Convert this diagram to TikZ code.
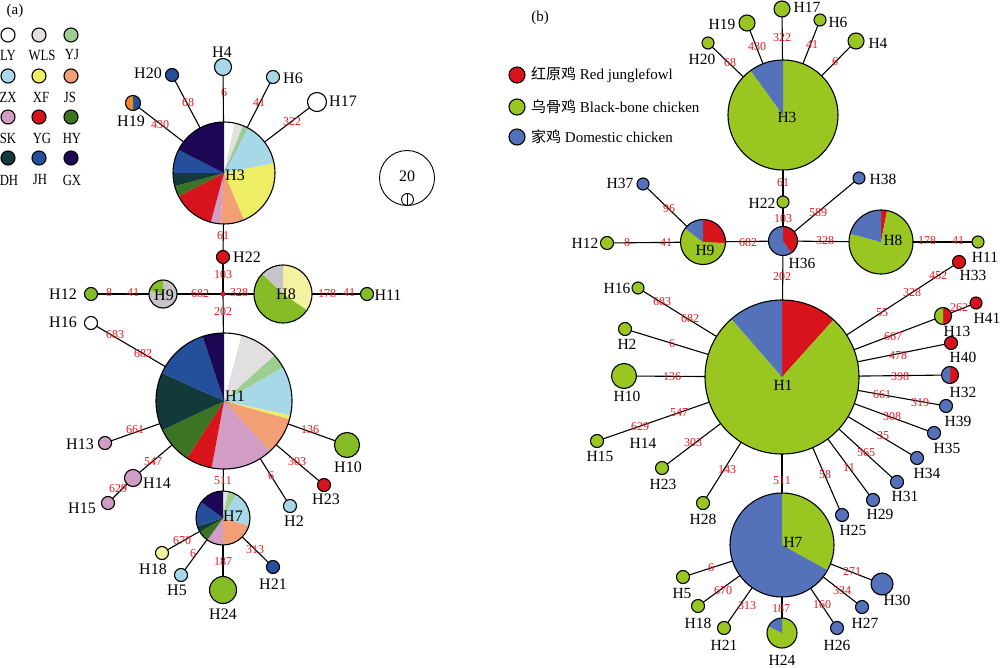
\documentclass[tikz,border=0pt]{standalone}
\usepackage{fontspec}
\setmainfont{Liberation Serif}
\newfontfamily\cjk{Noto Sans CJK SC}
\usetikzlibrary{calc}
\pgfdeclarelayer{back}
\pgfdeclarelayer{edges}
\pgfsetlayers{back,edges,main}
% panel (a) colours
\definecolor{cLY}{HTML}{FFFFFF}
\definecolor{cWLS}{HTML}{E1DFE0}
\definecolor{cYJ}{HTML}{9CCE8F}
\definecolor{cZX}{HTML}{A7D8E8}
\definecolor{cXF}{HTML}{EDEE63}
\definecolor{cJS}{HTML}{F29F75}
\definecolor{cSK}{HTML}{D19DC5}
\definecolor{cYG}{HTML}{D7131B}
\definecolor{cHY}{HTML}{3B7523}
\definecolor{cDH}{HTML}{14393B}
\definecolor{cJH}{HTML}{234F9B}
\definecolor{cGX}{HTML}{1B0753}
\definecolor{cGrey}{HTML}{C6C4C7}
\definecolor{cPale}{HTML}{F2F2A0}
\definecolor{cGa}{HTML}{86BC25}
\definecolor{cOr}{HTML}{EE8A2C}
% panel (b) colours
\definecolor{bRed}{HTML}{D7131B}
\definecolor{bGreen}{HTML}{9AC622}
\definecolor{bBlue}{HTML}{5372BA}
\definecolor{numred}{HTML}{E3191C}
\tikzset{
  hap/.style={circle, draw=black, line width=1.1pt, inner sep=0pt, outer sep=0pt},
  lab/.style={inner sep=0pt, font=\fontsize{16}{16}\selectfont},
  labb/.style={inner sep=0pt, font=\fontsize{15.5}{16}\selectfont},
  leg/.style={inner sep=0pt, font=\fontsize{15.5}{15.5}\selectfont, xscale=0.82},
  legb/.style={inner sep=0pt, anchor=west, font=\fontsize{15}{15}\selectfont},
  num/.style={inner sep=0pt, text=numred, font=\fontsize{12}{12}\selectfont},
  edge/.style={line width=1.1pt, black},
}
\newcommand\hp[5]{\node[hap, fill=#5, minimum size={2*#4pt}] (#1) at (#2,#3) {};}
\newcommand\pslice[6]{\fill[#6] (#1,#2) -- ++({#4-90}:#3) arc[start angle={#4-90}, end angle={#5-90}, radius=#3] -- cycle;}
\newcommand\pout[4]{\node[hap, minimum size={2*#4pt}] (#1) at (#2,#3) {};}
\newcounter{nlc}
\newcommand\nl[2]{\stepcounter{nlc}\node[num] (nl\arabic{nlc}) at (#1) {#2};}
\begin{document}
\begin{tikzpicture}[x=1pt,y=-1pt]
\useasboundingbox (0,0) rectangle (1000,668);
\begin{pgfonlayer}{back}
\fill[white] (0,0) rectangle (1000,668);
\end{pgfonlayer}
%================ PANEL (a) ================
\node[inner sep=0pt, font=\fontsize{15}{15}\selectfont] (pa) at (15,11) {(a)};
% legend
\hp{lgLY}{8}{35}{7}{cLY}   \hp{lgWLS}{39}{35}{7}{cWLS} \hp{lgYJ}{71}{35}{7}{cYJ}
\hp{lgZX}{8}{76}{7}{cZX}   \hp{lgXF}{39}{76}{7}{cXF}   \hp{lgJS}{71}{76}{7}{cJS}
\hp{lgSK}{8}{117}{7}{cSK}  \hp{lgYG}{39}{117}{7}{cYG}  \hp{lgHY}{71}{117}{7}{cHY}
\hp{lgDH}{8}{158}{7}{cDH}  \hp{lgJH}{39}{158}{7}{cJH}  \hp{lgGX}{71}{158}{7}{cGX}
\node[leg] (tLY) at (8,55) {LY};   \node[leg] (tWLS) at (42,55) {WLS}; \node[leg] (tYJ) at (72,55) {YJ};
\node[leg] (tZX) at (8,97) {ZX};   \node[leg] (tXF) at (41,97) {XF};   \node[leg] (tJS) at (70,97) {JS};
\node[leg] (tSK) at (8,138) {SK};  \node[leg] (tYG) at (42,138) {YG};  \node[leg] (tHY) at (72,138) {HY};
\node[leg] (tDH) at (9,180) {DH};  \node[leg] (tJH) at (40,180) {JH};  \node[leg] (tGX) at (72,180) {GX};
% H3a
\pslice{224}{173}{51}{0}{12}{cLY}
\pslice{224}{173}{51}{12}{22}{cWLS}
\pslice{224}{173}{51}{22}{28}{cYJ}
\pslice{224}{173}{51}{28}{79}{cZX}
\pslice{224}{173}{51}{79}{157}{cXF}
\pslice{224}{173}{51}{157}{184}{cJS}
\pslice{224}{173}{51}{184}{195}{cSK}
\pslice{224}{173}{51}{195}{243}{cYG}
\pslice{224}{173}{51}{243}{255}{cHY}
\pslice{224}{173}{51}{255}{270}{cDH}
\pslice{224}{173}{51}{270}{297}{cJH}
\pslice{224}{173}{51}{297}{360}{cGX}
\pout{h3a}{224}{173}{51}
\node[lab] (tH3a) at (235,175) {H3};
\hp{h4a}{223}{67}{8.5}{cZX}   \node[lab] (tH4a) at (222,52) {H4};
\hp{h20a}{172}{75}{6.5}{cJH}  \node[lab] (tH20a) at (148,73) {H20};
\pslice{133}{103}{7.5}{0}{180}{cJH}
\pslice{133}{103}{7.5}{180}{360}{cOr}
\pout{h19a}{133}{103}{7.5}    \node[lab] (tH19a) at (131,121) {H19};
\hp{h6a}{273}{77}{6.5}{cZX}   \node[lab] (tH6a) at (293,78) {H6};
\hp{h17a}{317}{102}{9.5}{cLY} \node[lab] (tH17a) at (343,101) {H17};
\nl{224,93}{6} \nl{188,103}{68} \nl{160,125}{430} \nl{259,103}{41} \nl{292,122}{322} \nl{223,236}{61}
% middle (a)
\hp{h22a}{223}{257}{6.5}{cYG} \node[lab] (tH22a) at (247,257) {H22};
\node[circle, fill=numred, inner sep=0pt, minimum size=5pt] (j1a) at (223,294) {};
\nl{223,275}{103} \nl{223,312}{202} \nl{200,294}{682} \nl{239,293}{328}
\hp{h12a}{91}{294}{6.5}{cGa}  \node[lab] (tH12a) at (63,294) {H12};
\nl{109,293}{8} \nl{133,293}{41}
\pslice{163}{294}{14}{0}{285}{cGrey}
\pslice{163}{294}{14}{285}{360}{cGa}
\pout{h9a}{163}{294}{14}      \node[lab] (tH9a) at (164,295) {H9};
\pslice{283}{294}{29}{0}{124}{cPale}
\pslice{283}{294}{29}{124}{314}{cGa}
\pslice{283}{294}{29}{314}{360}{cGrey}
\pout{h8a}{283}{294}{29}      \node[lab] (tH8a) at (286,294) {H8};
\nl{327,294}{178} \nl{349,293}{41}
\hp{h11a}{367}{294}{6.5}{cGa} \node[lab] (tH11a) at (388,295) {H11};
\hp{h16a}{91}{323}{6.5}{cLY}  \node[lab] (tH16a) at (63,322) {H16};
\nl{115,335}{683} \nl{143,354}{682}
% H1a
\pslice{224}{401}{68}{0}{15}{cLY}
\pslice{224}{401}{68}{15}{48}{cWLS}
\pslice{224}{401}{68}{48}{60.5}{cYJ}
\pslice{224}{401}{68}{60.5}{102.3}{cZX}
\pslice{224}{401}{68}{102.3}{105.7}{cXF}
\pslice{224}{401}{68}{105.7}{137.6}{cJS}
\pslice{224}{401}{68}{137.6}{190.5}{cSK}
\pslice{224}{401}{68}{190.5}{213}{cYG}
\pslice{224}{401}{68}{213}{244.7}{cHY}
\pslice{224}{401}{68}{244.7}{294.3}{cDH}
\pslice{224}{401}{68}{294.3}{341.7}{cJH}
\pslice{224}{401}{68}{341.7}{360}{cGX}
\pout{h1a}{224}{401}{68}
\node[lab] (tH1a) at (235,396) {H1};
\hp{h13a}{105}{443}{6.5}{cSK}  \node[lab] (tH13a) at (80,444) {H13};
\hp{h14a}{133}{478}{8.5}{cSK}  \node[lab] (tH14a) at (157,483) {H14};
\hp{h15a}{108}{503}{6.5}{cSK}  \node[lab] (tH15a) at (82,508) {H15};
\hp{h10a}{347}{445}{12.5}{cGa} \node[lab] (tH10a) at (348,467) {H10};
\hp{h23a}{324}{485}{6.5}{cYG}  \node[lab] (tH23a) at (326,499) {H23};
\hp{h2a}{290}{506}{6.5}{cZX}   \node[lab] (tH2a) at (294,521) {H2};
\nl{135,430}{661} \nl{153,462}{547} \nl{118,489}{629} \nl{310,430}{136} \nl{297,462}{303} \nl{271,476}{6} \nl{223,481}{511}
% H7a
\pslice{223}{518}{27}{0}{11}{cWLS}
\pslice{223}{518}{27}{11}{30}{cYJ}
\pslice{223}{518}{27}{30}{107}{cZX}
\pslice{223}{518}{27}{107}{180}{cJS}
\pslice{223}{518}{27}{180}{216}{cSK}
\pslice{223}{518}{27}{216}{240}{cHY}
\pslice{223}{518}{27}{240}{252}{cDH}
\pslice{223}{518}{27}{252}{306}{cJH}
\pslice{223}{518}{27}{306}{360}{cGX}
\pout{h7a}{223}{518}{27}
\node[lab] (tH7a) at (233,516) {H7};
\hp{h18a}{162}{553}{6.5}{cPale} \node[lab] (tH18a) at (153,569) {H18};
\hp{h5a}{181}{575}{6.5}{cZX}    \node[lab] (tH5a) at (177,590) {H5};
\hp{h24a}{223}{590}{13.5}{cGa}  \node[lab] (tH24a) at (223,614) {H24};
\hp{h21a}{273}{567}{6.5}{cJH}   \node[lab] (tH21a) at (273,584) {H21};
\nl{182,541}{670} \nl{193,554}{6} \nl{223,562}{187} \nl{255,550}{313}
% scale
\node[circle, draw=black, line width=0.9pt, inner sep=0pt, minimum size=55pt] (sc20) at (407,178) {};
\node[lab] (tsc20) at (407,176) {20};
\node[circle, draw=black, line width=0.9pt, inner sep=0pt, minimum size=12pt] (sc1) at (407.5,199.5) {};
\draw[line width=0.9pt] (sc1.north) -- (sc1.south);
\begin{pgfonlayer}{edges}
\foreach \a/\b in {h3a/h4a, h3a/h20a, h3a/h19a, h3a/h6a, h3a/h17a, h3a/h22a, h22a/j1a, j1a/h1a, j1a/h9a, h9a/h12a, j1a/h8a, h8a/h11a, h1a/h16a, h1a/h13a, h1a/h14a, h14a/h15a, h1a/h10a, h1a/h23a, h1a/h2a, h1a/h7a, h7a/h18a, h7a/h5a, h7a/h24a, h7a/h21a}
  \draw[edge] (\a.center) -- (\b.center);
\end{pgfonlayer}
%================ PANEL (b) ================
\node[inner sep=0pt, font=\fontsize{15}{15}\selectfont] (pb) at (540,18) {(b)};
\hp{lgR}{517}{75}{8}{bRed}     \node[legb] (tlgR) at (531,75) {{\cjk 红原鸡} Red junglefowl};
\hp{lgG}{517}{107}{8}{bGreen}  \node[legb] (tlgG) at (531,107) {{\cjk 乌骨鸡} Black-bone chicken};
\hp{lgB}{517}{137}{8}{bBlue}   \node[legb] (tlgB) at (531,137) {{\cjk 家鸡} Domestic chicken};
% H3b
\pslice{783}{115}{55}{0}{324}{bGreen}
\pslice{783}{115}{55}{324}{360}{bBlue}
\pout{h3b}{783}{115}{55}
\node[labb] (tH3b) at (787,117) {H3};
\hp{h20b}{708}{43}{6}{bGreen}  \node[labb] (tH20b) at (702,59) {H20};
\hp{h19b}{747}{23}{8}{bGreen}  \node[labb] (tH19b) at (722,24) {H19};
\hp{h17b}{782}{9}{8}{bGreen}   \node[labb] (tH17b) at (807,7.5) {H17};
\hp{h6b}{820}{20}{6}{bGreen}   \node[labb] (tH6b) at (838,22) {H6};
\hp{h4b}{856}{41}{8}{bGreen}   \node[labb] (tH4b) at (878,43) {H4};
\nl{730,63}{68} \nl{757,47}{430} \nl{782,38}{322} \nl{812,45}{41} \nl{835,62}{6}
\nl{783,183}{61}
\hp{h22b}{783}{202}{6}{bGreen} \node[labb] (tH22b) at (762,203) {H22};
\nl{783,219}{103}
\pslice{783}{241}{14.5}{0}{146}{bRed}
\pslice{783}{241}{14.5}{146}{360}{bBlue}
\pout{h36b}{783}{241}{14.5}    \node[labb] (tH36b) at (802,263) {H36};
\hp{h38b}{859}{178}{6}{bBlue}  \node[labb] (tH38b) at (883,179) {H38};
\nl{818,213}{589} \nl{825,241}{328}
\pslice{881}{242}{32}{0}{11}{bRed}
\pslice{881}{242}{32}{11}{285}{bGreen}
\pslice{881}{242}{32}{285}{360}{bBlue}
\pout{h8b}{881}{242}{32}       \node[labb] (tH8b) at (893,240) {H8};
\nl{927,241}{178} \nl{958,241}{41}
\hp{h11b}{978}{242}{6}{bGreen} \node[labb] (tH11b) at (985,257) {H11};
\nl{748,243}{682}
\pslice{703}{242}{22.5}{0}{93}{bRed}
\pslice{703}{242}{22.5}{93}{307}{bGreen}
\pslice{703}{242}{22.5}{307}{360}{bBlue}
\pout{h9b}{703}{242}{22.5}     \node[labb] (tH9b) at (705,250) {H9};
\nl{666,243}{41} \nl{627,243}{8}
\hp{h12b}{607}{243}{6.5}{bGreen} \node[labb] (tH12b) at (585,243) {H12};
\hp{h37b}{643}{184}{6}{bBlue}  \node[labb] (tH37b) at (620,183) {H37};
\nl{669,209}{96} \nl{782,277}{202}
% H1b
\pslice{782}{377}{77}{0}{42}{bRed}
\pslice{782}{377}{77}{42}{319}{bGreen}
\pslice{782}{377}{77}{319}{360}{bBlue}
\pout{h1b}{782}{377}{77}
\node[labb] (tH1b) at (783,385) {H1};
\hp{h16b}{638}{288}{6}{bGreen}   \node[labb] (tH16b) at (617,288) {H16};
\hp{h2b}{625}{329}{6.5}{bGreen}  \node[labb] (tH2b) at (627,344) {H2};
\hp{h10b}{624}{376}{12.5}{bGreen} \node[labb] (tH10b) at (627,396) {H10};
\hp{h15b}{597}{441}{6.5}{bGreen} \node[labb] (tH15b) at (600,456) {H15};
\coordinate (h14b) at ($(h15b)!0.36!(h1b)$);
\node[labb] (tH14b) at (643,443) {H14};
\hp{h23b}{662}{468}{6.5}{bGreen} \node[labb] (tH23b) at (663,484) {H23};
\hp{h28b}{703}{503}{6.5}{bGreen} \node[labb] (tH28b) at (703,519) {H28};
\nl{662,302}{683} \nl{690,319}{682} \nl{672,344}{6} \nl{672,377}{136} \nl{640,427}{629} \nl{679,413}{547} \nl{693,443}{303} \nl{727,470}{143} \nl{782,481}{511}
\hp{h25b}{842}{515}{6.5}{bBlue} \node[labb] (tH25b) at (853,530) {H25};
\hp{h29b}{873}{500}{6.5}{bBlue} \node[labb] (tH29b) at (880,514) {H29};
\hp{h31b}{897}{482}{6.5}{bBlue} \node[labb] (tH31b) at (905,496) {H31};
\hp{h34b}{917}{458}{6.5}{bBlue} \node[labb] (tH34b) at (927,473) {H34};
\hp{h35b}{934}{433}{6.5}{bBlue} \node[labb] (tH35b) at (947,448) {H35};
\hp{h39b}{946}{406}{6.5}{bBlue} \node[labb] (tH39b) at (958,421) {H39};
\pslice{950}{375}{8.5}{0}{180}{bRed}
\pslice{950}{375}{8.5}{180}{360}{bBlue}
\pout{h32b}{950}{375}{8.5}      \node[labb] (tH32b) at (963,392) {H32};
\hp{h40b}{951}{343}{6.5}{bRed}  \node[labb] (tH40b) at (963,357) {H40};
\pslice{943}{316}{8.5}{0}{180}{bRed}
\pslice{943}{316}{8.5}{180}{360}{bGreen}
\pout{h13b}{943}{316}{8.5}      \node[labb] (tH13b) at (957,331) {H13};
\hp{h41b}{976}{303}{6}{bRed}    \node[labb] (tH41b) at (987,318) {H41};
\hp{h33b}{959}{262}{6.5}{bRed}  \node[labb] (tH33b) at (973,275) {H33};
\nl{825,475}{58} \nl{849,468}{11} \nl{866,453}{565} \nl{883,436}{35} \nl{892,417}{308} \nl{882,395}{661} \nl{920,403}{319} \nl{900,377}{398} \nl{898,356}{478} \nl{893,337}{667} \nl{959,308}{262} \nl{882,313}{55} \nl{912,293}{328} \nl{938,276}{452}
% H7b
\pslice{782}{545}{52}{0}{119}{bGreen}
\pslice{782}{545}{52}{119}{360}{bBlue}
\pout{h7b}{782}{545}{52}
\node[labb] (tH7b) at (793,542) {H7};
\hp{h5b}{683}{577}{6.5}{bGreen}  \node[labb] (tH5b) at (682,593) {H5};
\hp{h18b}{698}{606}{6.5}{bGreen} \node[labb] (tH18b) at (698,623) {H18};
\hp{h21b}{724}{628}{6.5}{bGreen} \node[labb] (tH21b) at (724,645) {H21};
\pslice{782}{633}{15}{0}{297}{bGreen}
\pslice{782}{633}{15}{297}{360}{bBlue}
\pout{h24b}{782}{633}{15}        \node[labb] (tH24b) at (782,660) {H24};
\hp{h26b}{837}{628}{6.5}{bBlue}  \node[labb] (tH26b) at (837,645) {H26};
\hp{h27b}{862}{607}{6.5}{bBlue}  \node[labb] (tH27b) at (865,623) {H27};
\hp{h30b}{882}{584}{11}{bBlue}   \node[labb] (tH30b) at (897,600) {H30};
\nl{711,568}{6} \nl{723,591}{670} \nl{747,606}{313} \nl{781,609}{187} \nl{822,605}{160} \nl{842,591}{334} \nl{852,572}{271}
\begin{pgfonlayer}{edges}
\foreach \a/\b in {h3b/h20b, h3b/h19b, h3b/h17b, h3b/h6b, h3b/h4b, h3b/h22b, h22b/h36b, h36b/h38b, h36b/h8b, h8b/h11b, h36b/h9b, h9b/h12b, h9b/h37b, h36b/h1b, h1b/h16b, h1b/h2b, h1b/h10b, h1b/h14b, h14b/h15b, h1b/h23b, h1b/h28b, h1b/h7b, h1b/h25b, h1b/h29b, h1b/h31b, h1b/h34b, h1b/h35b, h1b/h39b, h1b/h32b, h1b/h40b, h1b/h13b, h13b/h41b, h1b/h33b, h7b/h5b, h7b/h18b, h7b/h21b, h7b/h24b, h7b/h26b, h7b/h27b, h7b/h30b}
  \draw[edge] (\a.center) -- (\b.center);
\end{pgfonlayer}
\end{tikzpicture}
\end{document}
